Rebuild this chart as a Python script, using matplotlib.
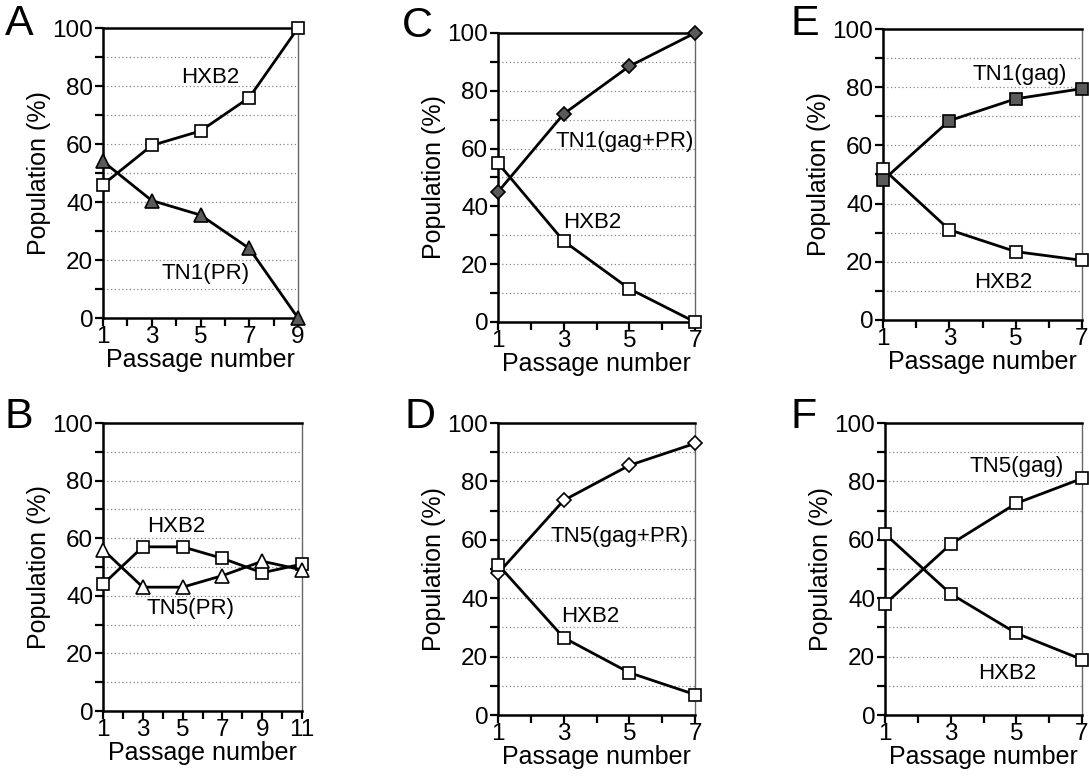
import matplotlib
matplotlib.use("Agg")
import matplotlib.pyplot as plt
from matplotlib.ticker import MultipleLocator

plt.rcParams['font.family'] = ['Liberation Sans', 'DejaVu Sans']

# ---- data ----
passage_A = [1, 3, 5, 7, 9]
hxb2_A = [46, 59.5, 64.5, 76, 100]
tn1pr_A = [54, 40.5, 35.5, 24, 0]

passage_B = [1, 3, 5, 7, 9, 11]
hxb2_B = [44, 57, 57, 53, 48, 51]
tn5pr_B = [56, 43, 43, 47, 52, 49]

passage_C = [1, 3, 5, 7]
tn1gagpr_C = [45, 72, 88.5, 100]
hxb2_C = [55, 28, 11.5, 0]

passage_D = [1, 3, 5, 7]
tn5gagpr_D = [48.5, 73.5, 85.5, 93]
hxb2_D = [51.5, 26.5, 14.5, 7]

passage_E = [1, 3, 5, 7]
tn1gag_E = [48, 68.5, 76, 79.5]
hxb2_E = [52, 31, 23.5, 20.5]

passage_F = [1, 3, 5, 7]
tn5gag_F = [38, 58.5, 72.5, 81]
hxb2_F = [62, 41.5, 28, 19]

W, H = 1089, 777
fig = plt.figure(figsize=(W / 100, H / 100), dpi=100)

def make_ax(l, t, r, b):
    return fig.add_axes([l / W, 1 - b / H, (r - l) / W, (b - t) / H])

def style(ax, xmax, letter, lx, ly):
    ax.set_xlim(1, xmax)
    ax.set_ylim(0, 100)
    ax.yaxis.set_major_locator(MultipleLocator(20))
    ax.yaxis.set_minor_locator(MultipleLocator(10))
    ax.xaxis.set_minor_locator(MultipleLocator(1))
    ax.set_xticks(list(range(1, xmax + 1, 2)))
    ax.grid(axis='y', which='both', linestyle=(0, (1, 2)), color='#888888', lw=0.9)
    ax.tick_params(which='both', direction='out', length=6, width=1.6, labelsize=17.5, pad=1)
    ax.tick_params(axis='x', pad=0)
    for s in ['left', 'bottom', 'top']:
        ax.spines[s].set_linewidth(1.8)
        ax.spines[s].set_color('black')
    ax.spines['right'].set_linewidth(1.0)
    ax.spines['right'].set_color('#666666')
    ax.set_ylabel('Population (%)', fontsize=18, labelpad=1)
    ax.set_xlabel('Passage number', fontsize=18, labelpad=0)
    fig.text(lx / W, 1 - ly / H, letter, fontsize=31, ha='left', va='top')

line_kw = dict(color='black', lw=2, clip_on=False, zorder=3)
open_sq = dict(marker='s', ms=9, mfc='white', mec='black', mew=1.2)
fill_sq = dict(marker='s', ms=9, mfc='#5a5a5a', mec='black', mew=1.2)
open_tri = dict(marker='^', ms=10, mfc='white', mec='black', mew=1.2)
fill_tri = dict(marker='^', ms=10, mfc='#5a5a5a', mec='black', mew=1.2)
open_dia = dict(marker='D', ms=7, mfc='white', mec='black', mew=1.2)
fill_dia = dict(marker='D', ms=7, mfc='#5a5a5a', mec='black', mew=1.2)

FS = 16

# A
ax = make_ax(103, 28, 298, 318)
ax.plot(passage_A, hxb2_A, **line_kw, **open_sq)
ax.plot(passage_A, tn1pr_A, **line_kw, **fill_tri)
style(ax, 9, 'A', 5, 4)
ax.text(5.4, 83, 'HXB2', fontsize=FS, ha='center', va='center')
ax.text(5.2, 15.5, 'TN1(PR)', fontsize=FS, ha='center', va='center')

# B
ax = make_ax(103, 423, 302, 711)
ax.plot(passage_B, hxb2_B, **line_kw, **open_sq)
ax.plot(passage_B, tn5pr_B, **line_kw, **open_tri)
style(ax, 11, 'B', 5, 397)
ax.text(4.7, 64, 'HXB2', fontsize=FS, ha='center', va='center')
ax.text(5.4, 35.5, 'TN5(PR)', fontsize=FS, ha='center', va='center')

# C
ax = make_ax(498, 33, 695, 322)
ax.plot(passage_C, tn1gagpr_C, **line_kw, **fill_dia)
ax.plot(passage_C, hxb2_C, **line_kw, **open_sq)
style(ax, 7, 'C', 402, 6)
ax.text(4.85, 62.3, 'TN1(gag+PR)', fontsize=FS, ha='center', va='center')
ax.text(3.87, 34.6, 'HXB2', fontsize=FS, ha='center', va='center')

# D
ax = make_ax(498, 423, 695, 715)
ax.plot(passage_D, tn5gagpr_D, **line_kw, **open_dia)
ax.plot(passage_D, hxb2_D, **line_kw, **open_sq)
style(ax, 7, 'D', 405, 397)
ax.text(4.7, 61.2, 'TN5(gag+PR)', fontsize=FS, ha='center', va='center')
ax.text(3.8, 33.7, 'HXB2', fontsize=FS, ha='center', va='center')

# E
ax = make_ax(883, 29, 1082, 320)
ax.plot(passage_E, hxb2_E, **line_kw, **open_sq)
ax.plot(passage_E, tn1gag_E, **line_kw, **fill_sq)
style(ax, 7, 'E', 791, 4)
ax.text(5.13, 84.2, 'TN1(gag)', fontsize=FS, ha='center', va='center')
ax.text(4.64, 13, 'HXB2', fontsize=FS, ha='center', va='center')

# F
ax = make_ax(885, 423, 1082, 715)
ax.plot(passage_F, tn5gag_F, **line_kw, **open_sq)
ax.plot(passage_F, hxb2_F, **line_kw, **open_sq)
style(ax, 7, 'F', 791, 397)
ax.text(5.0, 85, 'TN5(gag)', fontsize=FS, ha='center', va='center')
ax.text(4.72, 14.3, 'HXB2', fontsize=FS, ha='center', va='center')

fig.savefig('out.png', dpi=100, facecolor='white')
